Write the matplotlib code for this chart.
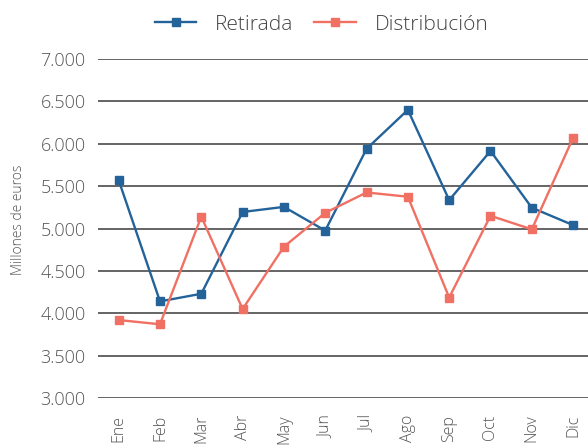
import matplotlib.pyplot as plt
from matplotlib.ticker import FuncFormatter

meses = ["Ene", "Feb", "Mar", "Abr", "May", "Jun",
         "Jul", "Ago", "Sep", "Oct", "Nov", "Dic"]
retirada = [5570, 4140, 4230, 5195, 5255, 4975, 5940, 6400, 5335, 5915, 5245, 5040]
distribucion = [3920, 3870, 5140, 4050, 4785, 5185, 5425, 5375, 4185, 5150, 4990, 6070]

AZUL = "#236399"
ROJO = "#f07064"

plt.rcParams["font.family"] = ["Open Sans", "DejaVu Sans"]

fig = plt.figure(figsize=(5.88, 4.48), dpi=100)
ax = fig.add_axes([0.1667, 0.1116, 0.8333, 0.7567])

x = range(len(meses))
ax.plot(x, retirada, color=AZUL, lw=1.7, marker="s", ms=6, label="Retirada")
ax.plot(x, distribucion, color=ROJO, lw=1.7, marker="s", ms=6, label="Distribución")

ax.set_ylim(3000, 7000)
ax.set_yticks(range(3000, 7001, 500))
ax.yaxis.set_major_formatter(FuncFormatter(lambda v, _: f"{v:,.0f}".replace(",", ".")))
ax.set_xlim(-0.5, 11.36)
ax.set_xticks(list(x))
ax.set_xticklabels(meses, rotation=90, va="top", ha="center")

ax.grid(axis="y", color="#3a3a3a", lw=1.1)
ax.set_axisbelow(True)
for s in ax.spines.values():
    s.set_visible(False)
ax.tick_params(axis="y", length=0, pad=9, labelsize=13, labelcolor="#555555")
ax.tick_params(axis="x", length=0, pad=12, labelsize=11.5, labelcolor="#555555")
for t in ax.get_yticklabels() + ax.get_xticklabels():
    t.set_fontweight("light")

fig.text(0.031, 0.51, "Millones de euros", rotation=90, ha="center", va="center",
         fontsize=10, color="#555555", fontweight="light")

leg = fig.legend(loc="center", bbox_to_anchor=(0.547, 0.945), ncol=2, frameon=False,
                 fontsize=15, handlelength=2.0, columnspacing=1.0, handletextpad=0.9)
for t in leg.get_texts():
    t.set_color("#444444")
    t.set_fontweight("light")
for h in leg.legend_handles:
    h.set_markersize(6)

fig.savefig("out.png", dpi=100)
